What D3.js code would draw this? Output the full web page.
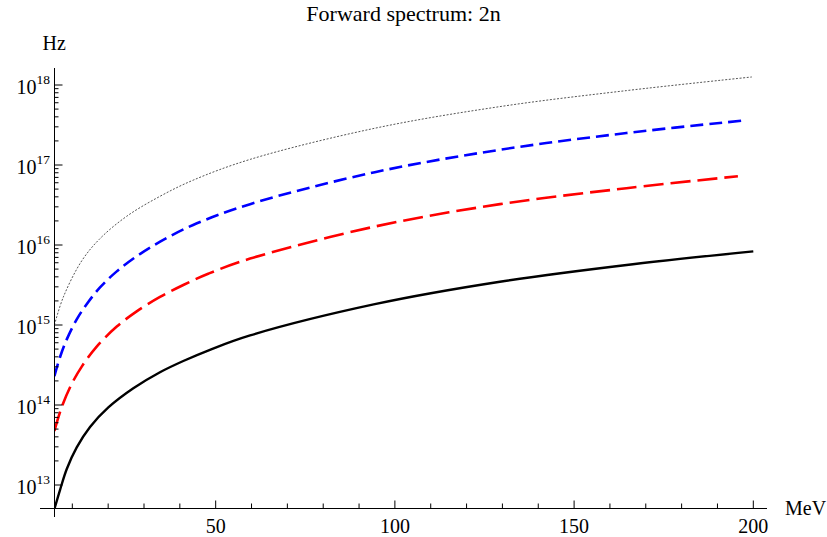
<!DOCTYPE html>
<html><head><meta charset="utf-8">
<script src="https://cdn.jsdelivr.net/npm/d3@7"></script>
<style>body{margin:0;background:#fff}svg{display:block}text{font-family:"Liberation Serif","Times New Roman",serif;fill:#000}</style>
</head><body><svg id="c" width="827" height="537"></svg>
<script>
// Energies (MeV) and spectra (Hz)
const energyBlack = [5, 6.58, 8.45, 11.23, 14.94, 20.05, 27.02, 34.46, 40.96, 48.4, 59.6, 94.4, 129.3, 166.4, 200];
const hzBlack     = [5.01e12, 8.71e12, 1.585e13, 2.95e13, 5.31e13, 9.33e13, 1.62e14, 2.57e14, 3.55e14, 4.90e14, 7.41e14, 1.82e15, 3.47e15, 5.75e15, 8.32e15];
const energyRed   = [5, 7.05, 9.84, 12.63, 16.8, 22.4, 27.96, 34.46, 40.96, 47.9, 59.6, 94.4, 129.3, 164.6, 195.7];
const hzRed       = [4.73e13, 9.44e13, 1.84e14, 3.02e14, 5.37e14, 9.55e14, 1.48e15, 2.24e15, 3.16e15, 4.37e15, 6.76e15, 1.70e16, 3.24e16, 5.13e16, 7.24e16];
const energyBlue  = [5, 6.58, 8.45, 11.23, 14.0, 17.73, 22.4, 27.96, 34.5, 43.7, 59.6, 94.4, 129.3, 164.6, 198.2];
const hzBlue      = [2.29e14, 3.98e14, 6.61e14, 1.175e15, 1.82e15, 2.95e15, 4.68e15, 7.24e15, 1.10e16, 1.78e16, 3.24e16, 8.13e16, 1.55e17, 2.51e17, 3.63e17];
const energyGray  = [5, 7.5, 12.6, 17.7, 25.2, 34.5, 43.7, 59.6, 94.4, 129.3, 164.6, 199.6];
const hzGray      = [1.00e15, 2.24e15, 6.31e15, 1.20e16, 2.29e16, 4.07e16, 6.46e16, 1.175e17, 2.88e17, 5.37e17, 8.51e17, 1.26e18];
const xMajorTicks = [50, 100, 150, 200];
const xMinorTicks = [10, 20, 30, 40, 60, 70, 80, 90, 110, 120, 130, 140, 160, 170, 180, 190];
const yMajorExp   = [13, 14, 15, 16, 17, 18];
const titleText = "Forward spectrum: 2n";

const svg = d3.select("#c");
const x = d3.scaleLinear().domain([5, 200]).range([54.4, 753.3]);
const y = d3.scaleLog().domain([Math.pow(10,12.7125), Math.pow(10,18.2125)]).range([508, 68]);

svg.append("defs").append("clipPath").attr("id","clip")
  .append("rect").attr("x",54.4).attr("y",60).attr("width",720).attr("height",448);

const series = [
  {e: energyGray,  v: hzGray,  color: "#555", w: 1.0, dash: "2,1.6"},
  {e: energyBlue,  v: hzBlue,  color: "#0000ff", w: 2.6, dash: "13,6"},
  {e: energyRed,   v: hzRed,   color: "#ff0000", w: 2.6, dash: "20,7"},
  {e: energyBlack, v: hzBlack, color: "#000", w: 2.4, dash: null}
];
const line = d3.line().x(d => x(d[0])).y(d => y(d[1])).curve(d3.curveCatmullRom.alpha(0.5));
const g = svg.append("g").attr("clip-path","url(#clip)");
series.forEach(s => {
  const pts = s.e.map((e,i) => [e, s.v[i]]);
  const p = g.append("path").attr("d", line(pts)).attr("fill","none")
    .attr("stroke", s.color).attr("stroke-width", s.w);
  if (s.dash) p.attr("stroke-dasharray", s.dash);
});

// axes
const ax = svg.append("g").attr("stroke","#000").attr("stroke-width",1);
ax.append("line").attr("x1",40).attr("x2",767).attr("y1",508.5).attr("y2",508.5);
ax.append("line").attr("x1",54.5).attr("x2",54.5).attr("y1",68).attr("y2",517);
xMajorTicks.forEach(t => ax.append("line").attr("x1",x(t)).attr("x2",x(t)).attr("y1",508.5).attr("y2",500.5));
xMinorTicks.forEach(t => ax.append("line").attr("x1",x(t)).attr("x2",x(t)).attr("y1",508.5).attr("y2",503.5));
yMajorExp.forEach(k => {
  const yy = y(Math.pow(10,k));
  ax.append("line").attr("x1",54.5).attr("x2",62.5).attr("y1",yy).attr("y2",yy);
  if (k < 18) for (let m = 2; m <= 9; m++) {
    const ym = y(m*Math.pow(10,k));
    ax.append("line").attr("x1",54.5).attr("x2",58.5).attr("y1",ym).attr("y2",ym);
  }
  const t = svg.append("text").attr("x",50).attr("y",yy+8.5).attr("text-anchor","end").style("font-size","20px");
  t.append("tspan").text("10");
  t.append("tspan").attr("dy",-9.5).style("font-size","13.5px").text(String(k));
});
xMajorTicks.forEach(t => svg.append("text").attr("x",x(t)).attr("y",533).attr("text-anchor","middle").style("font-size","20px").text(String(t)));

svg.append("text").attr("x",403.5).attr("y",20.5).attr("text-anchor","middle").style("font-size","22px").text(titleText);
svg.append("text").attr("x",42.5).attr("y",50).style("font-size","20px").text("Hz");
svg.append("text").attr("x",785).attr("y",515).style("font-size","20px").text("MeV");
</script></body></html>
